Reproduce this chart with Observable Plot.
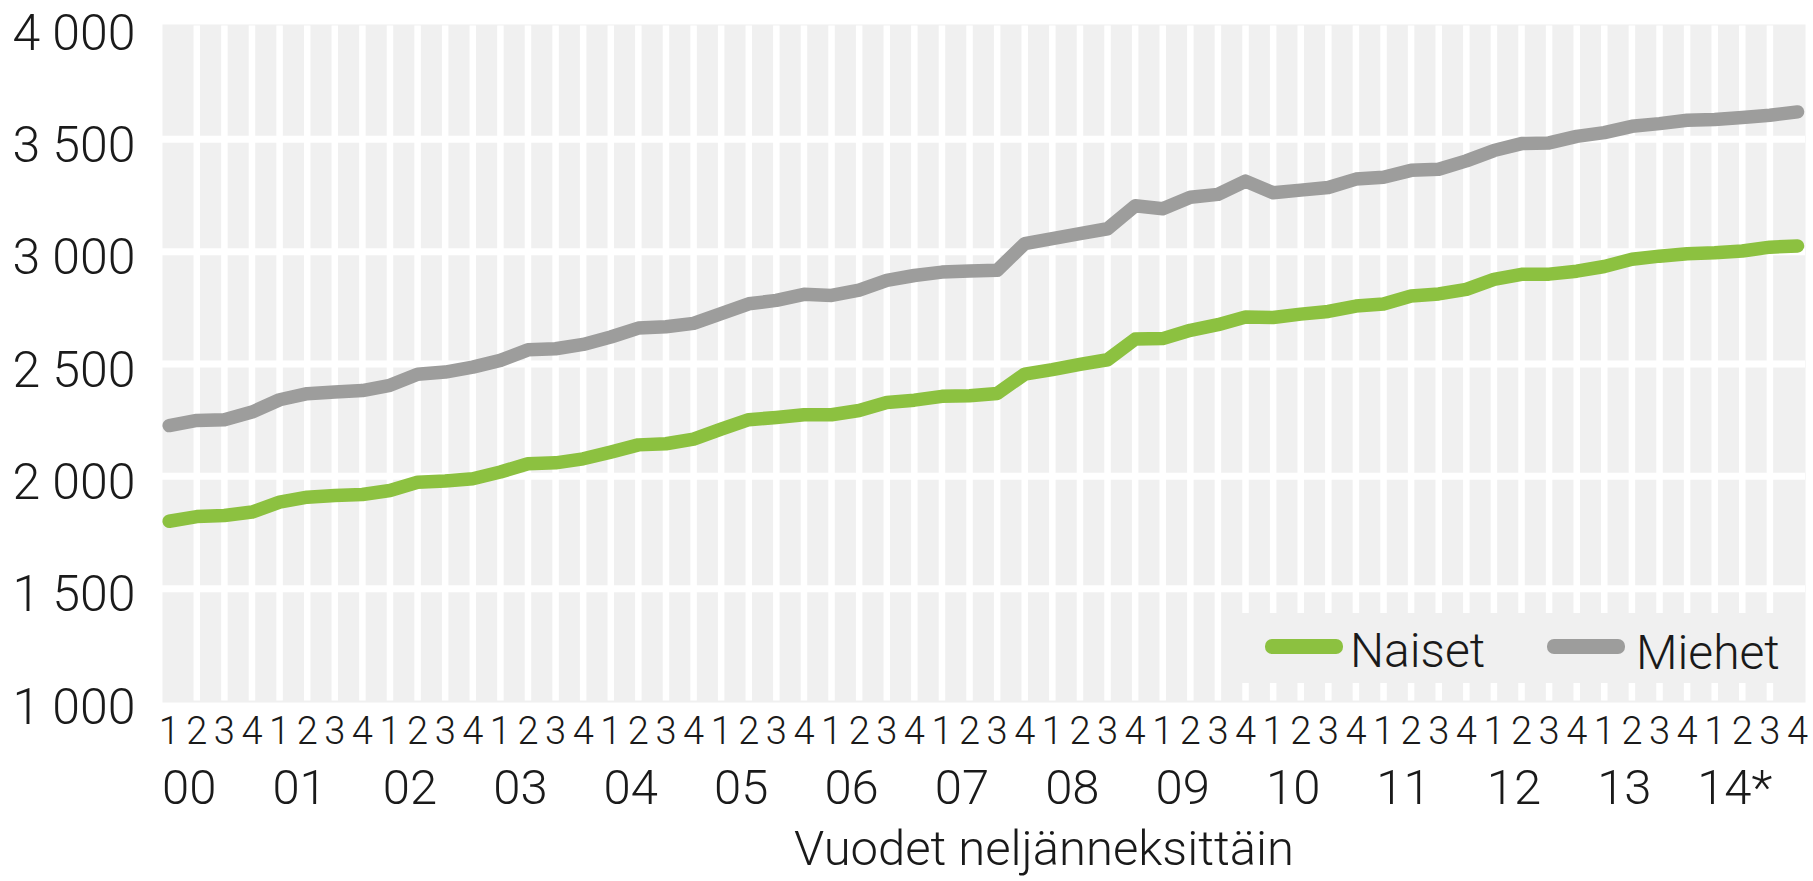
<!DOCTYPE html>
<html>
<head>
<meta charset="utf-8">
<script src="https://cdn.jsdelivr.net/npm/d3@7"></script>
<script src="https://cdn.jsdelivr.net/npm/@observablehq/plot@0.6"></script>
<style>
  html, body { margin: 0; padding: 0; background: #fff; overflow: hidden; }
  #wrap { position: relative; width: 1813px; height: 881px; }
  #legend { position: absolute; left: 0; top: 0; pointer-events: none; }
  text { font-family: Roboto, "Liberation Sans", sans-serif; font-weight: 300; }
</style>
</head>
<body>
<div id="wrap"></div>
<script>
// ---- Data ----
const years = ["00","01","02","03","04","05","06","07","08","09","10","11","12","13","14*"];
const quarterLabels = ["1","2","3","4"];
const yTicks = [1000, 1500, 2000, 2500, 3000, 3500, 4000];
const gridY = [1500, 2000, 2500, 3000, 3500];
const seriesNames = ["Naiset", "Miehet"];
const seriesColors = ["#8cc140", "#9d9d9c"];
const axisTitle = "Vuodet neljänneksittäin";

const naiset = [
  1800, 1821, 1826, 1841, 1885, 1907, 1915, 1919, 1937, 1974, 1979, 1989,
  2019, 2056, 2060, 2078, 2108, 2140, 2145, 2166, 2210, 2252, 2262, 2274,
  2274, 2293, 2329, 2339, 2356, 2359, 2369, 2455, 2475, 2498, 2519, 2611,
  2613, 2650, 2675, 2709, 2707, 2722, 2734, 2758, 2767, 2803, 2812, 2832,
  2877, 2899, 2900, 2913, 2934, 2966, 2980, 2991, 2995, 3003, 3020, 3025
];
const miehet = [
  2226, 2249, 2252, 2286, 2341, 2368, 2375, 2382, 2405, 2454, 2464, 2486,
  2516, 2563, 2568, 2587, 2620, 2660, 2666, 2681, 2724, 2768, 2783, 2810,
  2805, 2829, 2872, 2894, 2909, 2914, 2917, 3036, 3058, 3080, 3102, 3204,
  3191, 3242, 3255, 3314, 3262, 3274, 3286, 3323, 3331, 3362, 3367, 3404,
  3450, 3481, 3484, 3513, 3530, 3558, 3570, 3585, 3588, 3597, 3607, 3622
];

// ---- Build table ----
const keys = years.flatMap(y => quarterLabels.map(q => `${y}|${q}`));
const rows = [];
keys.forEach((k, i) => {
  rows.push({key: k, value: naiset[i], series: seriesNames[0]});
  rows.push({key: k, value: miehet[i], series: seriesNames[1]});
});

const fmt = d => d3.format(",")(d).replace(/,/g, " ");
const FONT = "Roboto, 'Liberation Sans', sans-serif";

const chart = Plot.plot({
  width: 1813,
  height: 881,
  marginLeft: 162,
  marginRight: 8,
  marginTop: 26.5,
  marginBottom: 180.5,
  style: {fontFamily: FONT, fontWeight: 300, color: "#1a1a1a", background: "white", overflow: "visible"},
  x: {type: "point", domain: keys, padding: 0, insetLeft: 6.7, insetRight: 8, label: null},
  y: {domain: [1000, 4000], label: null},
  color: {domain: seriesNames, range: seriesColors},
  marks: [
    Plot.frame({fill: "#f0f0f0", stroke: null, insetTop: -2.5, insetBottom: -1.5}),
    Plot.ruleX(keys.slice(1, keys.length - 1), {stroke: "white", strokeWidth: 6.5, insetTop: -1}),
    Plot.ruleY(gridY, {stroke: "white", strokeWidth: 7}),
    Plot.lineY(rows, {
      x: "key", y: "value", z: "series", stroke: "series",
      strokeWidth: 13.5, strokeLinecap: "round", strokeLinejoin: "round"
    }),
    Plot.axisY(yTicks, {
      tickSize: 0, tickPadding: 27, tickFormat: fmt, fontSize: 50, dy: 6.5, fontWeight: 300, label: null
    }),
    Plot.axisX({
      tickSize: 0, tickPadding: 16, tickFormat: k => k.split("|")[1], fontSize: 38, fontWeight: 300, label: null
    }),
    Plot.text(years, {
      x: y => `${y}|1`, frameAnchor: "bottom", lineAnchor: "bottom",
      dy: 102.5, dx: 20, fontSize: 49, fontWeight: 300
    }),
    Plot.text([axisTitle], {
      text: d => d, frameAnchor: "bottom", lineAnchor: "bottom",
      dy: 164, dx: 60, fontSize: 49, fontWeight: 300
    })
  ]
});

const wrap = document.getElementById("wrap");
wrap.appendChild(chart);

// ---- Legend (inside plot, bottom right) ----
const ns = "http://www.w3.org/2000/svg";
const leg = document.createElementNS(ns, "svg");
leg.setAttribute("id", "legend");
leg.setAttribute("width", 1813);
leg.setAttribute("height", 881);
const bg = document.createElementNS(ns, "rect");
bg.setAttribute("x", 1237); bg.setAttribute("y", 613);
bg.setAttribute("width", 568); bg.setAttribute("height", 70);
bg.setAttribute("fill", "#f0f0f0");
leg.appendChild(bg);
const legendItems = [
  {sx: 1265, tx: 1350, ty: 667},
  {sx: 1547, tx: 1636, ty: 669}
];
seriesNames.forEach((name, i) => {
  const it = legendItems[i];
  const sw = document.createElementNS(ns, "rect");
  sw.setAttribute("x", it.sx); sw.setAttribute("y", 639);
  sw.setAttribute("width", 78); sw.setAttribute("height", 15);
  sw.setAttribute("rx", 7); sw.setAttribute("fill", seriesColors[i]);
  leg.appendChild(sw);
  const t = document.createElementNS(ns, "text");
  t.setAttribute("x", it.tx); t.setAttribute("y", it.ty);
  t.setAttribute("font-size", 48);
  t.setAttribute("fill", "#1a1a1a");
  t.textContent = name;
  leg.appendChild(t);
});
wrap.appendChild(leg);
</script>
</body>
</html>
